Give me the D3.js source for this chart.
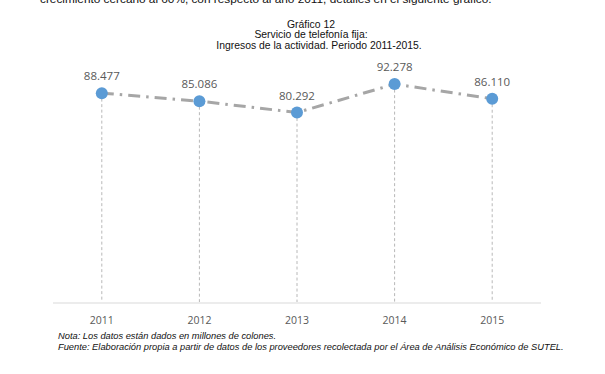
<!DOCTYPE html>
<html><head><meta charset="utf-8">
<script src="https://cdn.jsdelivr.net/npm/d3@7"></script>
<style>
html,body{margin:0;padding:0;background:#fff;}
svg{display:block;}
</style></head>
<body>
<svg id="chart" width="605" height="374"></svg>
<script>
const years = ["2011","2012","2013","2014","2015"];
const values = [88477, 85086, 80292, 92278, 86110];
const valueLabels = ["88.477","85.086","80.292","92.278","86.110"];
const titleLines = ["Gráfico 12","Servicio de telefonía fija:","Ingresos de la actividad. Periodo 2011-2015."];
const notes = ["Nota: Los datos están dados en millones de colones.",
  "Fuente: Elaboración propia a partir de datos de los proveedores recolectada por el Área de Análisis Económico de SUTEL."];

const svg = d3.select("#chart");
const L = 53, R = 541, base = 303;
const x = d3.scalePoint().domain(years).range([L, R]).padding(0.5);
const y = d3.scaleLinear().domain([0, 100000]).range([base, base - 237.2]);

// cropped body text at top (continuation of the document)
svg.append("text").attr("x", 40).attr("y", 2.5)
  .attr("font-family", "Liberation Sans, Arial, sans-serif").attr("font-size", 11.8)
  .attr("fill", "#111")
  .text("crecimiento cercano al 60%, con respecto al año 2011, detalles en el siguiente gráfico.");

// titles
const titleX = [311, 311, 319];
svg.selectAll("text.title").data(titleLines).join("text").attr("class","title")
  .attr("x", (d,i) => titleX[i]).attr("y", (d,i) => 27.5 + i*10.6)
  .attr("text-anchor", "middle")
  .attr("font-family", "Liberation Sans, Arial, sans-serif").attr("font-size", 10.4)
  .attr("fill", "#111").text(d => d);

// baseline
svg.append("line").attr("x1", L).attr("x2", R).attr("y1", base).attr("y2", base)
  .attr("stroke", "#d9d9d9").attr("stroke-width", 1);

const data = years.map((yr,i) => ({yr, v: values[i], lab: valueLabels[i]}));

// drop lines
svg.selectAll("line.drop").data(data).join("line").attr("class","drop")
  .attr("x1", d => x(d.yr)).attr("x2", d => x(d.yr))
  .attr("y1", d => y(d.v)).attr("y2", base - 1)
  .attr("stroke", "#b8b8b8").attr("stroke-width", 1).attr("stroke-dasharray", "3,2.5");

// line
const line = d3.line().x(d => x(d.yr)).y(d => y(d.v));
svg.append("path").datum(data).attr("d", line)
  .attr("fill", "none").attr("stroke", "#a6a6a6").attr("stroke-width", 3)
  .attr("stroke-dasharray", "12,6,2.5,6");

// dots
svg.selectAll("circle").data(data).join("circle")
  .attr("cx", d => x(d.yr)).attr("cy", d => y(d.v)).attr("r", 6)
  .attr("fill", "#5b9bd5");

// value labels
svg.selectAll("text.val").data(data).join("text").attr("class","val")
  .attr("x", d => x(d.yr)).attr("y", d => y(d.v) - 13)
  .attr("text-anchor", "middle")
  .attr("font-family", "Open Sans, sans-serif").attr("font-size", 11.5)
  .attr("fill", "#595959").text(d => d.lab);

// x axis labels
svg.selectAll("text.yr").data(years).join("text").attr("class","yr")
  .attr("x", d => x(d)).attr("y", 324)
  .attr("text-anchor", "middle")
  .attr("font-family", "Open Sans, sans-serif").attr("font-size", 10.5)
  .attr("fill", "#595959").text(d => d);

// notes
svg.selectAll("text.note").data(notes).join("text").attr("class","note")
  .attr("x", 58).attr("y", (d,i) => 339 + i*11)
  .attr("font-family", "Liberation Sans, Arial, sans-serif").attr("font-size", 9.3)
  .attr("font-style", "italic").attr("fill", "#111").text(d => d);
</script>
</body></html>
